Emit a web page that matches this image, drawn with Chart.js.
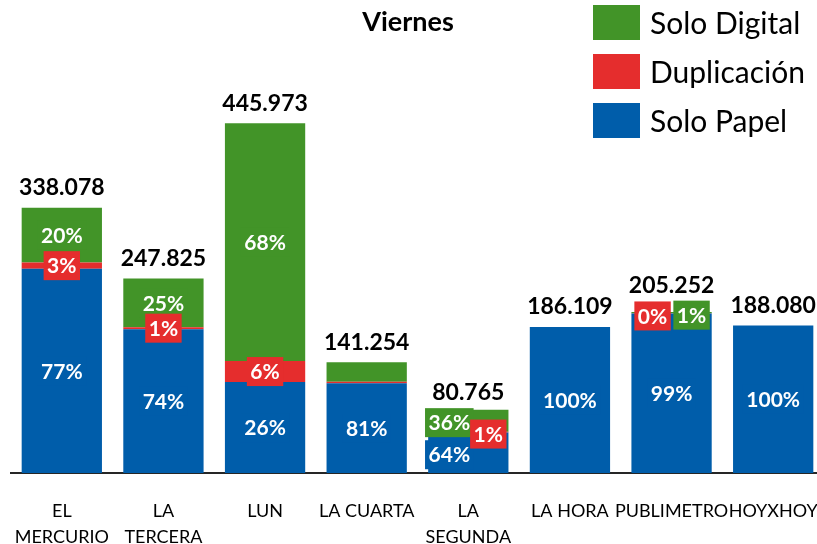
<!DOCTYPE html>
<html>
<head>
<meta charset="utf-8">
<script src="https://cdn.jsdelivr.net/npm/chart.js@4.4.1/dist/chart.umd.min.js"></script>
<style>
  html, body { margin: 0; padding: 0; background: #fff; overflow: hidden; }
</style>
</head>
<body>
<canvas id="chart" width="830" height="552"></canvas>
<script>
const categories = [['EL', 'MERCURIO'], ['LA', 'TERCERA'], 'LUN', 'LA CUARTA', ['LA', 'SEGUNDA'], 'LA HORA', 'PUBLIMETRO', 'HOYXHOY'];
const totals = [338078, 247825, 445973, 141254, 80765, 186109, 205252, 188080];

// stacked segments (lectores), bottom to top
const soloPapel   = [260320, 183390, 115953, 114416, 51690, 186109, 203200, 188080];
const duplicacion = [8000, 2478, 26758, 1800, 1000, 0, 400, 0];
const soloDigital = [69758, 61957, 303262, 25038, 28075, 0, 1652, 0];

// percentage labels shown on the segments
const pctPapel   = ['77%', '74%', '26%', '81%', '64%', '100%', '99%', '100%'];
const pctDup     = ['3%', '1%', '6%', null, '1%', null, '0%', null];
const pctDigital = ['20%', '25%', '68%', null, '36%', null, '1%', null];

const colors = { papel: '#005DAA', dup: '#E52D2D', digital: '#429428' };

// label nudges where the segments are too thin: [category][dataset] = [dx, dy]
const labelShift = {
  4: { 0: [-19, 2], 1: [20, 2], 2: [-19, 2] },
  6: { 1: [-19, 2.5], 2: [20, 2.5] },
};
const totalShift = { 4: 3, 6: -6 };

function fmt(n) {
  return String(n).replace(/\B(?=(\d{3})+(?!\d))/g, '.');
}

const overlay = {
  id: 'overlay',
  afterDatasetsDraw(chart) {
    const ctx = chart.ctx;
    const pcts = [pctPapel, pctDup, pctDigital];
    ctx.save();
    ctx.textAlign = 'center';
    ctx.textBaseline = 'middle';

    // blue and green first, red boxes sit on top
    [0, 2, 1].forEach(di => {
      const meta = chart.getDatasetMeta(di);
      const color = chart.data.datasets[di].backgroundColor;
      meta.data.forEach((bar, i) => {
        const txt = pcts[di][i];
        if (!txt) return;
        const s = (labelShift[i] && labelShift[i][di]) || [0, 0];
        const x = bar.x + s[0];
        const y = (bar.y + bar.base) / 2 + s[1];
        ctx.font = 'bold 21px Lato';
        const w = ctx.measureText(txt).width + 7;
        ctx.fillStyle = color;
        ctx.fillRect(x - w / 2, y - 14.5, w, 29);
        ctx.fillStyle = '#fff';
        ctx.fillText(txt, x, y + 1);
      });
    });

    // totals above each stack
    const topMeta = chart.getDatasetMeta(2);
    ctx.font = 'bold 23px Lato';
    ctx.fillStyle = '#000';
    topMeta.data.forEach((bar, i) => {
      ctx.fillText(fmt(totals[i]), bar.x, bar.y - 20 + (totalShift[i] || 0));
    });
    ctx.restore();
  },
  afterDraw(chart) {
    const ctx = chart.ctx;
    ctx.save();
    // title
    ctx.font = 'bold 27px Lato';
    ctx.fillStyle = '#000';
    ctx.textAlign = 'center';
    ctx.textBaseline = 'middle';
    ctx.fillText('Viernes', 408, 22);

    // legend, top dataset first
    ctx.textAlign = 'left';
    ctx.font = '30px Lato';
    const ds = chart.data.datasets.slice().reverse();
    ds.forEach((d, k) => {
      const y = 5 + k * 49;
      ctx.fillStyle = d.backgroundColor;
      ctx.fillRect(593, y, 47, 35);
      ctx.fillStyle = '#000';
      ctx.fillText(d.label, 650, y + 19);
    });
    ctx.restore();
  }
};

Chart.defaults.font.family = 'Lato';

new Chart(document.getElementById('chart'), {
  type: 'bar',
  data: {
    labels: categories,
    datasets: [
      { label: 'Solo Papel', data: soloPapel, backgroundColor: colors.papel },
      { label: 'Duplicación', data: duplicacion, backgroundColor: colors.dup },
      { label: 'Solo Digital', data: soloDigital, backgroundColor: colors.digital },
    ],
  },
  options: {
    responsive: false,
    animation: false,
    layout: { padding: { left: 11, right: 6, top: 40, bottom: 0 } },
    datasets: { bar: { categoryPercentage: 0.79, barPercentage: 1, borderWidth: 0 } },
    plugins: {
      legend: { display: false },
      title: { display: false },
      tooltip: { enabled: false },
    },
    scales: {
      x: {
        stacked: true,
        grid: { display: false, drawTicks: false },
        border: { display: true, color: '#262626', width: 2 },
        ticks: {
          color: '#000',
          font: { size: 18, lineHeight: 1.4 },
          padding: 26,
          maxRotation: 0,
          minRotation: 0,
          autoSkip: false,
        },
        afterFit(scale) {
          // labels may overhang the plot edges, as in the original
          scale.paddingLeft = 0;
          scale.paddingRight = 0;
          scale.height = 79;
        },
      },
      y: { stacked: true, display: false, min: 0, max: 552000 },
    },
  },
  plugins: [overlay],
});
</script>
</body>
</html>
